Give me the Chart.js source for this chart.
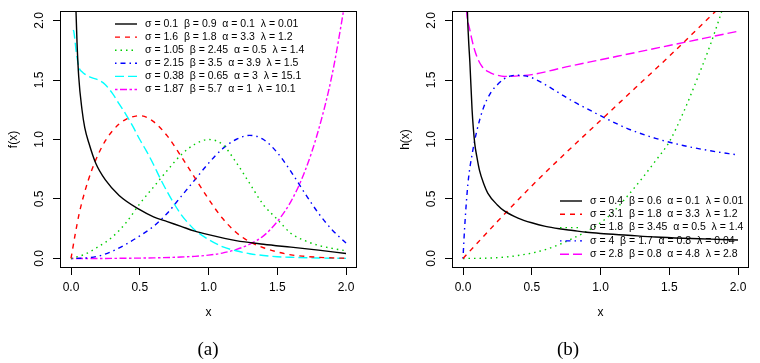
<!DOCTYPE html>
<html>
<head>
<meta charset="utf-8">
<script src="https://cdn.jsdelivr.net/npm/chart.js@4/dist/chart.umd.min.js"></script>
<style>
  body { margin: 0; background: #fff; width: 760px; height: 363px; position: relative; overflow: hidden; }
  .panel { position: absolute; top: 0; width: 380px; height: 363px; }
</style>
</head>
<body>
<div class="panel" style="left:0"><canvas id="pdfChart" width="380" height="363"></canvas></div>
<div class="panel" style="left:380px"><canvas id="hrfChart" width="380" height="363"></canvas></div>

<script>
// Axis ticks (same on both panels)
const xTicks = [0, 0.5, 1, 1.5, 2];
const yTicks = [0, 0.5, 1, 1.5, 2];

// Panel (a): density curves f(x)
const pdfLabels = [
  'σ = 0.1  β = 0.9  α = 0.1  λ = 0.01',
  'σ = 1.6  β = 1.8  α = 3.3  λ = 1.2',
  'σ = 1.05  β = 2.45  α = 0.5  λ = 1.4',
  'σ = 2.15  β = 3.5  α = 3.9  λ = 1.5',
  'σ = 0.38  β = 0.65  α = 3  λ = 15.1',
  'σ = 1.87  β = 5.7  α = 1  λ = 10.1'
];
const pdfBlackX = [0.03, 0.036, 0.044, 0.056, 0.08, 0.1, 0.13, 0.18, 0.25, 0.35, 0.5, 0.6, 0.7, 0.8, 0.9, 1.0, 1.2, 1.4, 1.6, 1.8, 2.0];
const pdfBlackY = [2.4, 2.09, 1.81, 1.53, 1.25, 1.1, 0.97, 0.80, 0.66, 0.53, 0.41, 0.35, 0.31, 0.27, 0.23, 0.2, 0.15, 0.12, 0.095, 0.07, 0.042];
const pdfRedX = [0, 0.03, 0.06, 0.1, 0.15, 0.2, 0.25, 0.3, 0.35, 0.4, 0.5, 0.6, 0.7, 0.8, 0.9, 1.0, 1.1, 1.2, 1.3, 1.4, 1.5, 1.6, 1.7, 1.8, 1.9, 2.0];
const pdfRedY = [0, 0.2, 0.38, 0.56, 0.74, 0.88, 0.99, 1.07, 1.13, 1.17, 1.20, 1.15, 1.03, 0.86, 0.68, 0.50, 0.34, 0.22, 0.14, 0.09, 0.055, 0.03, 0.018, 0.01, 0.005, 0.002];
const pdfGreenX = [0, 0.1, 0.2, 0.3, 0.4, 0.5, 0.6, 0.7, 0.8, 0.9, 1.0, 1.1, 1.2, 1.3, 1.4, 1.5, 1.6, 1.7, 1.8, 1.9, 2.0];
const pdfGreenY = [0, 0.035, 0.1, 0.18, 0.3, 0.46, 0.60, 0.74, 0.87, 0.96, 1.0, 0.96, 0.81, 0.63, 0.45, 0.33, 0.21, 0.15, 0.11, 0.085, 0.065];
const pdfBlueX = [0, 0.1, 0.2, 0.3, 0.4, 0.5, 0.6, 0.7, 0.8, 0.9, 1.0, 1.1, 1.2, 1.3, 1.4, 1.5, 1.6, 1.7, 1.8, 1.9, 2.0];
const pdfBlueY = [0, 0.003, 0.02, 0.06, 0.12, 0.19, 0.27, 0.38, 0.52, 0.66, 0.80, 0.92, 1.0, 1.035, 1.0, 0.89, 0.73, 0.55, 0.38, 0.24, 0.13];
const pdfCyanX = [0.015, 0.02, 0.04, 0.06, 0.08, 0.1, 0.15, 0.2, 0.25, 0.3, 0.35, 0.4, 0.45, 0.5, 0.55, 0.6, 0.65, 0.7, 0.75, 0.8, 0.85, 0.9, 1.0, 1.1, 1.2, 1.3, 1.4, 1.5, 1.6, 1.8, 2.0];
const pdfCyanY = [1.92, 1.91, 1.72, 1.6, 1.57, 1.55, 1.52, 1.50, 1.46, 1.39, 1.30, 1.21, 1.11, 1.0, 0.90, 0.79, 0.67, 0.56, 0.46, 0.37, 0.30, 0.24, 0.16, 0.10, 0.065, 0.04, 0.025, 0.015, 0.01, 0.004, 0.001];
const pdfMagentaX = [0, 0.2, 0.4, 0.6, 0.8, 0.9, 1.0, 1.1, 1.2, 1.3, 1.4, 1.5, 1.6, 1.7, 1.8, 1.9, 2.0];
const pdfMagentaY = [0, 0, 0.002, 0.005, 0.012, 0.018, 0.028, 0.045, 0.075, 0.12, 0.19, 0.31, 0.48, 0.73, 1.08, 1.55, 2.2];

// Panel (b): hazard curves h(x)
const hrfLabels = [
  'σ = 0.4  β = 0.6  α = 0.1  λ = 0.01',
  'σ = 3.1  β = 1.8  α = 3.3  λ = 1.2',
  'σ = 1.8  β = 3.45  α = 0.5  λ = 1.4',
  'σ = 4  β = 1.7  α = 0.8  λ = 0.04',
  'σ = 2.8  β = 0.8  α = 4.8  λ = 2.8'
];
const hrfBlackX = [0.028, 0.032, 0.04, 0.05, 0.066, 0.085, 0.1, 0.12, 0.15, 0.18, 0.25, 0.3, 0.4, 0.5, 0.6, 0.7, 0.8, 0.9, 1.0, 1.2, 1.4, 1.6, 1.8, 2.0];
const hrfBlackY = [2.4, 2.09, 1.85, 1.65, 1.25, 0.97, 0.86, 0.74, 0.63, 0.55, 0.45, 0.40, 0.34, 0.30, 0.27, 0.25, 0.235, 0.22, 0.21, 0.195, 0.18, 0.17, 0.163, 0.155];
const hrfRedX = [0, 0.25, 0.5, 0.75, 1.0, 1.25, 1.5, 1.75, 2.0];
const hrfRedY = [0, 0.31, 0.61, 0.89, 1.16, 1.43, 1.70, 1.98, 2.26];
const hrfGreenX = [0, 0.2, 0.4, 0.6, 0.8, 1.0, 1.1, 1.2, 1.3, 1.4, 1.5, 1.6, 1.7, 1.8, 1.9, 2.0];
const hrfGreenY = [0, 0.004, 0.025, 0.075, 0.17, 0.30, 0.40, 0.53, 0.67, 0.82, 0.98, 1.22, 1.5, 1.8, 2.14, 2.5];
const hrfBlueX = [0, 0.012, 0.036, 0.07, 0.1, 0.15, 0.2, 0.25, 0.3, 0.35, 0.4, 0.45, 0.5, 0.6, 0.7, 0.8, 0.9, 1.0, 1.2, 1.4, 1.6, 1.8, 2.0];
const hrfBlueY = [0, 0.26, 0.63, 0.9, 1.07, 1.27, 1.39, 1.46, 1.51, 1.535, 1.54, 1.535, 1.52, 1.46, 1.39, 1.32, 1.26, 1.2, 1.09, 1.01, 0.95, 0.905, 0.87];
const hrfMagentaX = [0.02, 0.025, 0.05, 0.085, 0.134, 0.2, 0.25, 0.3, 0.35, 0.4, 0.5, 0.75, 1.0, 1.25, 1.5, 1.75, 2.0];
const hrfMagentaY = [2.2, 2.09, 1.92, 1.75, 1.62, 1.56, 1.54, 1.53, 1.532, 1.535, 1.545, 1.61, 1.67, 1.73, 1.79, 1.85, 1.91];

// R line types
const LTY = {
  solid: [],
  dashed: [5, 5],
  dotted: [1.5, 4],
  dotdash: [1.5, 4, 5, 4],
  longdash: [9, 4],
  twodash: [2.5, 2.5, 7, 2.5]
};

const FONT = '"Liberation Sans", Arial, sans-serif';

function toPoints(xs, ys) {
  return xs.map((x, i) => ({x: x, y: ys[i]}));
}

function makeDataset(label, xs, ys, color, dash) {
  return {
    label: label,
    data: toPoints(xs, ys),
    borderColor: color,
    borderWidth: 1.4,
    borderDash: dash,
    pointRadius: 0,
    fill: false,
    cubicInterpolationMode: 'monotone'
  };
}

// Draws the R style box, rotated y labels, titles and the legend
const rFrame = {
  id: 'rFrame',
  afterDraw(chart, args, opts) {
    const ctx = chart.ctx;
    const a = chart.chartArea;
    ctx.save();
    ctx.strokeStyle = '#000';
    ctx.lineWidth = 1;
    ctx.setLineDash([]);
    ctx.strokeRect(Math.round(a.left) + 0.5, Math.round(a.top) + 0.5,
      Math.round(a.right - a.left) - 1, Math.round(a.bottom - a.top) - 1);

    ctx.fillStyle = '#000';
    ctx.font = '12px ' + FONT;
    ctx.textAlign = 'center';
    ctx.textBaseline = 'middle';
    yTicks.forEach(v => {
      const y = chart.scales.y.getPixelForValue(v);
      ctx.save();
      ctx.translate(a.left - 20, y);
      ctx.rotate(-Math.PI / 2);
      ctx.fillText(v.toFixed(1), 0, 0);
      ctx.restore();
    });

    // axis titles
    const midX = (a.left + a.right) / 2;
    ctx.save();
    ctx.translate(a.left - 46, (a.top + a.bottom) / 2);
    ctx.rotate(-Math.PI / 2);
    ctx.fillText(opts.yTitle, 0, 0);
    ctx.restore();
    ctx.fillText('x', midX, 313);

    // panel tag
    ctx.font = '19px "Liberation Serif", "Times New Roman", serif';
    ctx.fillText(opts.tag, opts.tagX, 350);

    // legend, no box
    ctx.font = '10.5px ' + FONT;
    ctx.textAlign = 'left';
    chart.data.datasets.forEach((ds, i) => {
      const y = opts.legendY + i * opts.legendStep;
      ctx.strokeStyle = ds.borderColor;
      ctx.lineWidth = ds.borderWidth;
      ctx.setLineDash(ds.borderDash);
      ctx.beginPath();
      ctx.moveTo(opts.legendX, y);
      ctx.lineTo(opts.legendX + 22, y);
      ctx.stroke();
      ctx.setLineDash([]);
      ctx.fillText(ds.label, opts.legendX + 30, y);
    });
    ctx.restore();
  }
};

function makePanel(canvasId, datasets, yAxisWidth, padRight, frameOpts) {
  const ctx = document.getElementById(canvasId).getContext('2d');
  return new Chart(ctx, {
    type: 'line',
    data: {datasets: datasets},
    plugins: [rFrame],
    options: {
      responsive: false,
      animation: false,
      devicePixelRatio: 1,
      layout: {padding: {left: 0, top: 11, right: padRight, bottom: 0}},
      scales: {
        x: {
          type: 'linear',
          min: -0.08,
          max: 2.08,
          afterBuildTicks: s => { s.ticks = xTicks.map(v => ({value: v})); },
          afterFit: s => { s.height = 95; },
          ticks: {
            color: '#000',
            font: {family: FONT, size: 12},
            padding: 5,
            maxRotation: 0,
            autoSkip: false,
            callback: v => v.toFixed(1)
          },
          grid: {drawOnChartArea: false, drawTicks: true, tickLength: 7, color: '#000', lineWidth: 1},
          border: {display: false}
        },
        y: {
          type: 'linear',
          min: -0.08,
          max: 2.08,
          afterBuildTicks: s => { s.ticks = yTicks.map(v => ({value: v})); },
          afterFit: s => { s.width = yAxisWidth; },
          ticks: {display: false},
          grid: {drawOnChartArea: false, drawTicks: true, tickLength: 7, color: '#000', lineWidth: 1},
          border: {display: false}
        }
      },
      plugins: {
        legend: {display: false},
        tooltip: {enabled: false},
        rFrame: frameOpts
      }
    }
  });
}

makePanel('pdfChart', [
  makeDataset(pdfLabels[0], pdfBlackX, pdfBlackY, '#000000', LTY.solid),
  makeDataset(pdfLabels[1], pdfRedX, pdfRedY, '#FF0000', LTY.dashed),
  makeDataset(pdfLabels[2], pdfGreenX, pdfGreenY, '#00CD00', LTY.dotted),
  makeDataset(pdfLabels[3], pdfBlueX, pdfBlueY, '#0000FF', LTY.dotdash),
  makeDataset(pdfLabels[4], pdfCyanX, pdfCyanY, '#00FFFF', LTY.longdash),
  makeDataset(pdfLabels[5], pdfMagentaX, pdfMagentaY, '#FF00FF', LTY.twodash)
], 60, 23, {yTitle: 'f(x)', tag: '(a)', tagX: 208, legendX: 115, legendY: 24, legendStep: 13.1});

makePanel('hrfChart', [
  makeDataset(hrfLabels[0], hrfBlackX, hrfBlackY, '#000000', LTY.solid),
  makeDataset(hrfLabels[1], hrfRedX, hrfRedY, '#FF0000', LTY.dashed),
  makeDataset(hrfLabels[2], hrfGreenX, hrfGreenY, '#00CD00', LTY.dotted),
  makeDataset(hrfLabels[3], hrfBlueX, hrfBlueY, '#0000FF', LTY.dotdash),
  makeDataset(hrfLabels[4], hrfMagentaX, hrfMagentaY, '#FF00FF', LTY.longdash)
], 72, 11, {yTitle: 'h(x)', tag: '(b)', tagX: 188, legendX: 180, legendY: 201, legendStep: 13.3});
</script>
</body>
</html>
